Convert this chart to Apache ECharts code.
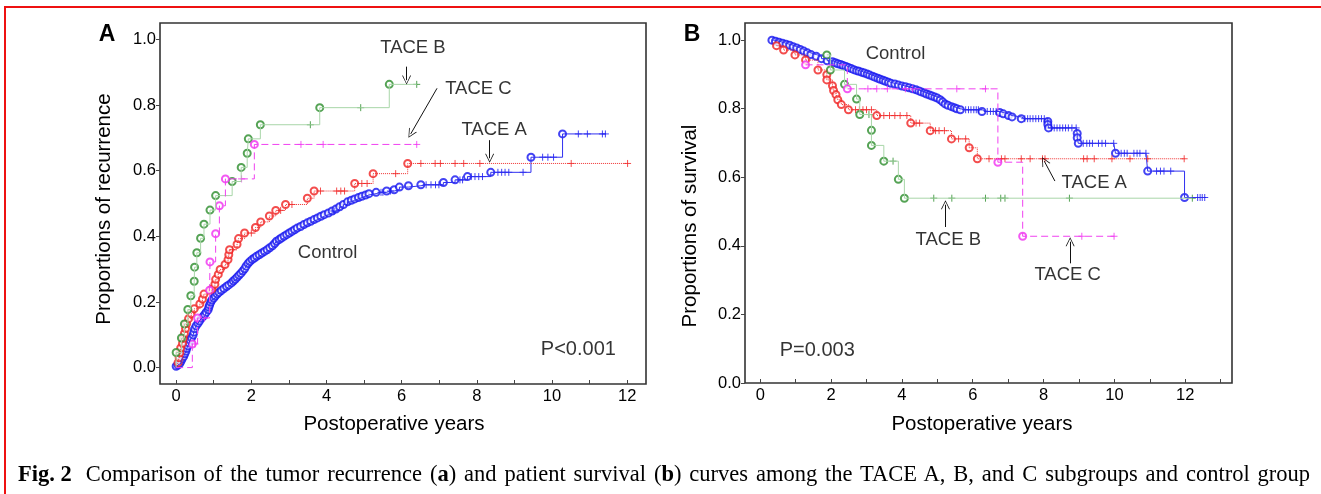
<!DOCTYPE html>
<html lang="en">
<head>
    <meta charset="UTF-8">
    <title>Fig. 2</title>
    <script src="https://cdn.jsdelivr.net/npm/echarts@6/dist/echarts.min.js"></script>
    <style>
        body { margin: 0; background: #fff; }
        #wrap { position: relative; width: 1321px; height: 494px; }
        #main { width: 1321px; height: 494px; }
        #cap {
            position: absolute; left: 18px; top: 461px; width: 1292px;
            font: 22.5px "Liberation Serif", "Times New Roman", serif; color: #000;
            text-align: justify; text-align-last: justify; white-space: nowrap;
        }
        #cap .fig { display: inline-block; margin-right: 6px; }
    </style>
</head>
<body>
<div id="wrap">
    <div id="main"></div>
    <div id="cap"><span class="fig"><b>Fig. 2</b></span> Comparison of the tumor recurrence (<b>a</b>) and patient survival (<b>b</b>) curves among the TACE A, B, and C subgroups and control group</div>
</div>

<script type="text/javascript">
    // ticks
    var xTicksA = [0, 1, 2, 3, 4, 5, 6, 7, 8, 9, 10, 11, 12];
    var xTicksB = [0, 1, 2, 3, 4, 5, 6, 7, 8, 9, 10, 11, 12, 13];
    var xLabels = [0, 2, 4, 6, 8, 10, 12];
    var yTicks = [0, 0.2, 0.4, 0.6, 0.8, 1.0];

    // A: recurrence, [years, proportion]; Evt = circles, Cen = pluses
    var recCtrlEvt = [[0.00,0.004],[0.05,0.008],[0.10,0.013],[0.13,0.020],[0.16,0.027],[0.20,0.034],[0.23,0.042],[0.26,0.050],
        [0.28,0.058],[0.31,0.066],[0.34,0.075],[0.37,0.084],[0.41,0.091],[0.45,0.099],[0.47,0.108],[0.49,0.118],[0.53,0.127],
        [0.58,0.135],[0.62,0.142],[0.67,0.150],[0.72,0.156],[0.76,0.162],[0.80,0.169],[0.85,0.176],[0.87,0.184],[0.89,0.191],
        [0.92,0.199],[0.95,0.206],[1.00,0.212],[1.04,0.218],[1.09,0.224],[1.14,0.229],[1.20,0.235],[1.27,0.241],[1.34,0.247],
        [1.40,0.252],[1.47,0.258],[1.52,0.264],[1.57,0.269],[1.62,0.275],[1.67,0.281],[1.72,0.287],[1.77,0.294],[1.82,0.301],
        [1.86,0.309],[1.91,0.317],[1.96,0.323],[2.02,0.329],[2.08,0.334],[2.14,0.339],[2.21,0.344],[2.28,0.349],[2.35,0.354],
        [2.42,0.359],[2.49,0.365],[2.56,0.371],[2.62,0.378],[2.67,0.385],[2.74,0.390],[2.80,0.395],[2.87,0.400],[2.94,0.405],
        [3.01,0.410],[3.08,0.415],[3.15,0.420],[3.22,0.425],[3.31,0.430],[3.40,0.436],[3.49,0.441],[3.58,0.446],[3.67,0.451],
        [3.76,0.456],[3.85,0.461],[3.94,0.466],[4.05,0.471],[4.15,0.477],[4.25,0.483],[4.35,0.490],[4.45,0.497],[4.56,0.505],
        [4.66,0.510],[4.75,0.514],[4.85,0.518],[4.94,0.522],[5.04,0.526],[5.13,0.530],[5.32,0.534],[5.60,0.538],[5.80,0.542],
        [5.94,0.550],[6.18,0.554],[6.51,0.557],[7.11,0.564],[7.42,0.572],[7.75,0.582],[8.37,0.595],[9.44,0.641],[10.28,0.712]];
    var recCtrlCen = [[4.20,0.477],[5.45,0.534],[5.50,0.534],[5.70,0.538],[6.65,0.557],[6.78,0.557],[6.90,0.557],[6.99,0.557],
        [7.55,0.572],[7.62,0.572],[7.85,0.582],[7.95,0.582],[8.05,0.582],[8.15,0.582],[8.56,0.595],[8.66,0.595],[8.75,0.595],
        [8.85,0.595],[9.23,0.595],[9.75,0.641],[9.89,0.641],[10.04,0.641],[10.70,0.712],[10.94,0.712],[11.34,0.712],[11.42,0.712]];
    var recAEvt = [[0.05,0.015],[0.08,0.030],[0.10,0.045],[0.12,0.060],[0.17,0.074],[0.19,0.089],[0.22,0.104],[0.25,0.119],
        [0.28,0.134],[0.33,0.149],[0.40,0.164],[0.48,0.179],[0.63,0.194],[0.70,0.209],[0.74,0.224],[0.95,0.239],[1.03,0.254],
        [1.05,0.269],[1.12,0.284],[1.17,0.299],[1.30,0.314],[1.38,0.329],[1.40,0.344],[1.42,0.359],[1.62,0.376],[1.66,0.393],
        [1.82,0.410],[2.11,0.427],[2.25,0.444],[2.48,0.462],[2.65,0.479],[2.91,0.497],[3.49,0.516],[3.67,0.538],[4.75,0.561],
        [5.24,0.591],[6.16,0.622]];
    var recACen = [[1.50,0.359],[2.00,0.410],[2.78,0.479],[3.08,0.497],[3.84,0.538],[4.27,0.538],[4.38,0.538],[4.48,0.538],
        [4.94,0.561],[5.08,0.561],[5.84,0.591],[6.51,0.622],[6.89,0.622],[7.03,0.622],[7.42,0.622],[7.65,0.622],[8.08,0.622],
        [10.51,0.622],[12.01,0.622]];
    var recBEvt = [[0.00,0.046],[0.14,0.090],[0.22,0.133],[0.31,0.177],[0.39,0.219],[0.48,0.263],[0.49,0.306],[0.55,0.350],
        [0.65,0.394],[0.74,0.437],[0.90,0.480],[1.05,0.524],[1.49,0.567],[1.73,0.610],[1.89,0.653],[1.92,0.697],[2.24,0.740],
        [3.82,0.792],[5.67,0.863]];
    var recBCen = [[3.57,0.740],[4.91,0.792],[6.40,0.863]];
    var recCEvt = [[0.43,0.072],[0.57,0.151],[0.89,0.236],[0.90,0.322],[1.05,0.408],[1.15,0.493],[1.31,0.575],[2.08,0.680]];
    var recCCen = [[0.50,0.072],[0.75,0.151],[1.74,0.575],[3.32,0.680],[3.91,0.680],[6.40,0.680]];

    // B: survival
    var survCtrlEvt = [[0.33,1.000],[0.43,0.997],[0.53,0.994],[0.63,0.991],[0.73,0.988],[0.83,0.985],[0.93,0.981],[1.03,0.977],
        [1.13,0.973],[1.23,0.968],[1.33,0.963],[1.43,0.958],[1.58,0.953],[1.73,0.946],[1.89,0.940],[2.04,0.937],[2.12,0.934],
        [2.19,0.931],[2.27,0.929],[2.34,0.926],[2.42,0.923],[2.49,0.920],[2.57,0.917],[2.64,0.914],[2.72,0.911],[2.79,0.909],
        [2.87,0.906],[2.94,0.904],[3.02,0.901],[3.09,0.898],[3.17,0.895],[3.24,0.892],[3.32,0.889],[3.39,0.886],[3.47,0.883],
        [3.54,0.880],[3.62,0.877],[3.69,0.874],[3.80,0.872],[3.90,0.869],[4.00,0.866],[4.10,0.864],[4.20,0.861],[4.30,0.858],
        [4.40,0.855],[4.48,0.852],[4.55,0.849],[4.63,0.846],[4.70,0.843],[4.78,0.840],[4.85,0.837],[4.93,0.834],[5.00,0.831],
        [5.08,0.826],[5.15,0.820],[5.22,0.814],[5.30,0.810],[5.40,0.806],[5.48,0.803],[5.55,0.800],[5.65,0.797],[6.26,0.792],
        [6.76,0.789],[6.86,0.785],[7.01,0.780],[7.11,0.776],[7.37,0.771],[8.12,0.763],[8.12,0.754],[8.14,0.744],[8.95,0.728],
        [8.95,0.715],[8.98,0.699],[10.03,0.670],[10.94,0.618],[11.98,0.541]];
    var survCtrlCen = [[5.80,0.797],[5.88,0.797],[5.95,0.797],[6.03,0.797],[6.10,0.797],[6.16,0.797],[6.41,0.792],[6.50,0.792],
        [6.58,0.792],[6.66,0.792],[7.47,0.771],[7.55,0.771],[7.62,0.771],[7.70,0.771],[7.78,0.771],[7.86,0.771],[7.94,0.771],
        [8.02,0.771],[8.22,0.744],[8.30,0.744],[8.38,0.744],[8.46,0.744],[8.54,0.744],[8.62,0.744],[8.70,0.744],[8.80,0.744],
        [8.92,0.744],[9.12,0.699],[9.22,0.699],[9.30,0.699],[9.38,0.699],[9.55,0.699],[9.65,0.699],[9.75,0.699],[9.98,0.699],
        [10.19,0.670],[10.28,0.670],[10.36,0.670],[10.55,0.670],[10.64,0.670],[10.72,0.670],[10.89,0.670],[11.19,0.618],
        [11.30,0.618],[11.40,0.618],[11.59,0.618],[12.35,0.541],[12.42,0.541],[12.48,0.541],[12.55,0.541]];
    var survAEvt = [[0.46,0.984],[0.66,0.971],[0.98,0.957],[1.28,0.942],[1.63,0.913],[1.88,0.899],[1.88,0.884],[2.04,0.867],
        [2.07,0.853],[2.14,0.841],[2.19,0.826],[2.29,0.812],[2.49,0.797],[3.29,0.780],[4.25,0.758],[4.80,0.736],[5.40,0.712],
        [5.90,0.686],[6.13,0.654]];
    var survACen = [[2.69,0.797],[2.80,0.797],[2.90,0.797],[3.00,0.797],[3.14,0.797],[3.49,0.780],[3.65,0.780],[3.80,0.780],
        [3.95,0.780],[4.14,0.780],[4.40,0.758],[4.50,0.758],[4.95,0.736],[5.05,0.736],[5.20,0.736],[5.60,0.712],[5.80,0.712],
        [6.46,0.654],[6.81,0.654],[6.91,0.654],[7.37,0.654],[7.62,0.654],[7.97,0.654],[8.04,0.654],[9.13,0.654],[9.23,0.654],
        [9.43,0.654],[9.93,0.654],[10.44,0.654],[10.94,0.654],[11.97,0.654]];
    var survBEvt = [[1.88,0.957],[1.98,0.913],[2.38,0.871],[2.72,0.828],[2.81,0.783],[3.14,0.737],[3.14,0.693],[3.49,0.647],
        [3.90,0.594],[4.07,0.539]];
    var survBCen = [[3.07,0.783],[3.75,0.647],[4.90,0.539],[5.41,0.539],[6.36,0.539],[6.79,0.539],[6.91,0.539],[8.73,0.539],
        [12.20,0.539]];
    var survCEvt = [[1.28,0.928],[2.46,0.858],[6.71,0.644],[7.41,0.428]];
    var survCCen = [[3.04,0.858],[3.29,0.858],[3.59,0.858],[4.10,0.858],[4.30,0.858],[5.55,0.858],[6.36,0.858],[9.08,0.428],
        [9.99,0.428]];

    // annotations: [text, x, y]
    var notesA = [['TACE B', 6.30, 0.973], ['TACE C', 8.04, 0.849], ['TACE A', 8.46, 0.724], ['Control', 4.03, 0.35]];
    var arrowsA = [[[6.13, 0.917], [6.13, 0.876]], [[6.94, 0.851], [6.24, 0.712]], [[8.34, 0.693], [8.34, 0.638]]];
    var pA = ['P<0.001', 10.7, 0.054];
    var notesB = [['Control', 3.82, 0.961], ['TACE A', 9.43, 0.585], ['TACE B', 5.31, 0.418], ['TACE C', 8.68, 0.315]];
    var arrowsB = [[[8.32, 0.589], [8.02, 0.647]], [[5.23, 0.455], [5.23, 0.52]], [[8.75, 0.349], [8.75, 0.412]]];
    var pB = ['P=0.003', 1.61, 0.094];

    var FONT = '"Liberation Sans", Arial, Helvetica, sans-serif';
    var PLUS = 'path://M0,5 L10,5 M5,0 L5,10';
    var ARROW = 'path://M5,0 L10,10 L9,10 L5,1.6 L1,10 L0,10 Z';

    // step line + circles + pluses for one group
    function group(evt, cen, color, lineColor, lineType, idx, start) {
        var pts = evt.concat(cen);
        var dir = start ? 1 : -1;
        pts.sort(function (a, b) { return a[0] - b[0] || dir * (a[1] - b[1]); });
        if (start) pts.unshift(start);
        return [{
            type: 'line', xAxisIndex: idx, yAxisIndex: idx, data: pts, step: 'end',
            showSymbol: false, symbol: 'none', silent: true,
            lineStyle: {color: lineColor, width: 1, type: lineType}
        }, {
            type: 'scatter', xAxisIndex: idx, yAxisIndex: idx, data: evt, symbol: 'emptyCircle', symbolSize: 7,
            silent: true, itemStyle: {color: color, borderColor: color, borderWidth: 1}
        }, {
            type: 'scatter', xAxisIndex: idx, yAxisIndex: idx, data: cen, symbol: PLUS, symbolSize: 7,
            silent: true, itemStyle: {color: 'none', borderColor: color, borderWidth: 1}
        }];
    }

    function notes(list, idx, size) {
        return {
            type: 'scatter', xAxisIndex: idx, yAxisIndex: idx, symbolSize: 1, silent: true, z: 10,
            itemStyle: {color: 'transparent'},
            label: {show: true, position: 'inside', formatter: '{b}', color: '#000', fontSize: size, fontFamily: FONT},
            data: list.map(function (n) { return {name: n[0], value: [n[1], n[2]]}; })
        };
    }

    function arrows(list, idx) {
        return {
            type: 'lines', coordinateSystem: 'cartesian2d', xAxisIndex: idx, yAxisIndex: idx, silent: true, z: 10,
            symbol: ['none', ARROW], symbolSize: [7, 9],
            lineStyle: {color: '#111', width: 1, opacity: 1},
            data: list.map(function (c) { return {coords: c}; })
        };
    }

    function xAxis(idx, min, max, ticks) {
        return {
            type: 'value', gridIndex: idx, min: min, max: max,
            axisLine: {show: false, onZero: false}, splitLine: {show: false},
            axisTick: {show: true, inside: true, length: 4, customValues: ticks, lineStyle: {color: '#444'}},
            axisLabel: {customValues: xLabels, margin: 4, color: '#000', fontSize: 16.5, fontFamily: FONT}
        };
    }

    function yAxis(idx, min, max) {
        return {
            type: 'value', gridIndex: idx, min: min, max: max,
            axisLine: {show: false, onZero: false}, splitLine: {show: false},
            axisTick: {show: true, length: 4, customValues: yTicks, lineStyle: {color: '#444'}},
            axisLabel: {customValues: yTicks, margin: 4, color: '#000', fontSize: 16.5, fontFamily: FONT,
                formatter: function (v) { return v.toFixed(1); }}
        };
    }

    function txt(s, x, y, size, weight, rot) {
        return {
            type: 'text', x: x, y: y, rotation: rot || 0, silent: true,
            style: {text: s, fill: '#000', font: (weight || 'normal') + ' ' + size + 'px ' + FONT,
                textAlign: 'center', textVerticalAlign: 'middle'}
        };
    }

    var myChart = echarts.init(document.getElementById('main'));
    var series = []
        .concat(group(recCtrlEvt, recCtrlCen, '#1414f0', '#3030f0', 'solid', 0, [0, 0]))
        .concat(group(recAEvt, recACen, '#f02020', '#f03030', 'dotted', 0, [0, 0]))
        .concat(group(recBEvt, recBCen, '#2a8c2a', '#a8d6a8', 'solid', 0, [0, 0]))
        .concat(group(recCEvt, recCCen, '#f030f0', '#f040f0', [7, 4], 0, [0, 0]))
        .concat(group(survCtrlEvt, survCtrlCen, '#1414f0', '#3030f0', 'solid', 1, null))
        .concat(group(survAEvt, survACen, '#f02020', '#f03030', 'dotted', 1, null))
        .concat(group(survBEvt, survBCen, '#2a8c2a', '#a8d6a8', 'solid', 1, null))
        .concat(group(survCEvt, survCCen, '#f030f0', '#f040f0', [7, 4], 1, null));
    series.push(notes(notesA, 0, 18.5), notes([pA], 0, 20), arrows(arrowsA, 0));
    series.push(notes(notesB, 1, 18.5), notes([pB], 1, 20), arrows(arrowsB, 1));

    myChart.setOption({
        animation: false,
        backgroundColor: '#fff',
        grid: [
            {left: 160, top: 23, width: 486, height: 361, show: true, borderColor: '#333', borderWidth: 1.6},
            {left: 745, top: 23, width: 487, height: 360, show: true, borderColor: '#333', borderWidth: 1.6}
        ],
        xAxis: [xAxis(0, -0.43, 12.5, xTicksA), xAxis(1, -0.43, 13.32, xTicksB)],
        yAxis: [yAxis(0, -0.05, 1.05), yAxis(1, 0, 1.05)],
        series: series,
        graphic: [
            {type: 'rect', silent: true, shape: {x: 4, y: 6, width: 1317, height: 2}, style: {fill: '#ee1111'}},
            {type: 'rect', silent: true, shape: {x: 4, y: 6, width: 2, height: 488}, style: {fill: '#ee1111'}},
            txt('A', 107, 35, 23, 'bold'),
            txt('B', 692, 35, 23, 'bold'),
            txt('Proportions of recurrence', 104, 209, 20.5, 'normal', Math.PI / 2),
            txt('Proportions of survival', 690, 226, 20.5, 'normal', Math.PI / 2),
            txt('Postoperative years', 394, 424, 20.5),
            txt('Postoperative years', 982, 424, 20.5)
        ]
    });
</script>
</body>
</html>
